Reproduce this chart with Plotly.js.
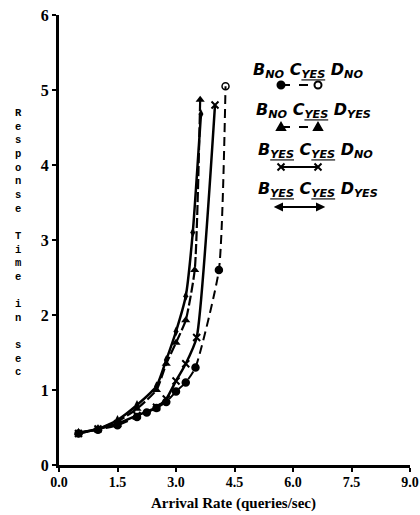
<!DOCTYPE html>
<html>
<head>
<meta charset="utf-8">
<script src="https://cdn.plot.ly/plotly-3.0.1.min.js"></script>
<style>html,body{margin:0;padding:0;background:#fff;}#chart{width:420px;height:515px;}</style>
</head>
<body>
<div id="chart"></div>
<script>
// ---- data ----
var seriesNames = [
  'B<sub>NO</sub> C<sub><u>YES</u></sub> D<sub>NO</sub>',
  'B<sub>NO</sub> C<sub><u>YES</u></sub> D<sub>YES</sub>',
  'B<sub><u>YES</u></sub> C<sub><u>YES</u></sub> D<sub>NO</sub>',
  'B<sub><u>YES</u></sub> C<sub><u>YES</u></sub> D<sub>YES</sub>'
];
var xNoYesNo  = [0.5, 1.0, 1.5, 2.0, 2.25, 2.5, 2.75, 3.0, 3.25, 3.5, 4.1, 4.27];
var yNoYesNo  = [0.42, 0.47, 0.53, 0.64, 0.70, 0.76, 0.84, 0.98, 1.10, 1.30, 2.60, 5.05];
var xNoYesYes = [0.5, 1.0, 1.5, 2.0, 2.5, 2.75, 3.0, 3.25, 3.48, 3.62];
var yNoYesYes = [0.43, 0.48, 0.58, 0.75, 1.00, 1.35, 1.63, 1.93, 2.60, 4.87];
var xYesYesNo = [0.5, 1.0, 1.5, 2.0, 2.5, 2.75, 3.0, 3.25, 3.53, 4.0];
var yYesYesNo = [0.42, 0.48, 0.55, 0.66, 0.77, 0.88, 1.12, 1.35, 1.70, 4.80];
var xYesYesYes = [0.5, 1.0, 1.5, 2.0, 2.5, 2.75, 3.0, 3.25, 3.43, 3.64];
var yYesYesYes = [0.43, 0.48, 0.60, 0.80, 1.05, 1.40, 1.78, 2.25, 3.10, 4.68];
var xTickVals = [0, 1.5, 3.0, 4.5, 6.0, 7.5, 9.0];
var xTickText = ['0.0', '1.5', '3.0', '4.5', '6.0', '7.5', '9.0'];
var yTickVals = [0, 1, 2, 3, 4, 5, 6];
var xTitle = 'Arrival Rate (queries/sec)';
var yTitle = 'Response Time in sec';

// ---- styling ----
var serif = 'Liberation Serif, Times New Roman, serif';
var legendFont = 'DejaVu Sans, sans-serif';
var circleSymbols = xNoYesNo.map(function(v, i){ return i === xNoYesNo.length - 1 ? 'circle-open' : 'circle'; });

var traces = [
  {x: xNoYesNo, y: yNoYesNo, mode: 'lines+markers', line: {color: '#000', width: 2, dash: '9px,5px', shape: 'spline', smoothing: 0.5},
   marker: {symbol: circleSymbols, size: 7, color: '#000', line: {color: '#000', width: 1.5}}, cliponaxis: false},
  {x: xNoYesYes, y: yNoYesYes, mode: 'lines+markers', line: {color: '#000', width: 2.2, dash: '10px,3px', shape: 'spline', smoothing: 0.5},
   marker: {symbol: 'triangle-up', size: 8, color: '#000'}, cliponaxis: false},
  {x: xYesYesNo, y: yYesYesNo, mode: 'lines+markers', line: {color: '#000', width: 2.5, shape: 'spline', smoothing: 0.5},
   marker: {symbol: 'x-thin-open', size: 7, color: '#000', line: {color: '#000', width: 2}}, cliponaxis: false},
  {x: xYesYesYes, y: yYesYesYes, mode: 'lines+markers', line: {color: '#000', width: 2.5, shape: 'spline', smoothing: 0.5},
   marker: {symbol: 'diamond-tall', size: 7, color: '#000'}, cliponaxis: false}
];

// ---- geometry of the plot area (px) ----
var L = 59, T = 15, W = 351, H = 450;
function pxX(x){ return (x - L) / W; }
function pxY(y){ return (T + H - y) / H; }
function dX(dx){ return dx / W; }
function dY(dy){ return dy / H; }

// ---- custom legend (label above a short sample line) ----
var legendRows = [
  {ty: 70, sy: 85, dash: 'dash', left: 'circle', right: 'circle-open'},
  {ty: 110, sy: 127, dash: 'dash', left: 'tri', right: 'tri'},
  {ty: 150, sy: 167, dash: 'solid', left: 'x', right: 'x'},
  {ty: 190, sy: 207, dash: 'solid', left: 'arrowL', right: 'arrowR'}
];
var sampleX0 = 281, sampleX1 = 318, labelCx = [308, 313, 315, 318];
function markerShape(kind, cx, cy){
  var r = 3.5;
  if (kind === 'circle' || kind === 'circle-open') {
    return {type: 'circle', xref: 'paper', yref: 'paper', x0: cx - dX(r), x1: cx + dX(r), y0: cy - dY(r), y1: cy + dY(r),
      line: {color: '#000', width: 2}, fillcolor: kind === 'circle' ? '#000' : '#fff'};
  }
  var p;
  function P(dx, dy){ return (cx + dX(dx)).toFixed(5) + ',' + (cy + dY(dy)).toFixed(5); }
  if (kind === 'tri') p = 'M' + P(-4, -3) + ' L' + P(4, -3) + ' L' + P(0, 4) + ' Z';
  if (kind === 'x') p = 'M' + P(-3.5, -3.5) + ' L' + P(3.5, 3.5) + ' M' + P(-3.5, 3.5) + ' L' + P(3.5, -3.5);
  if (kind === 'arrowL') p = 'M' + P(-5, 0) + ' L' + P(1, 3) + ' L' + P(1, -3) + ' Z';
  if (kind === 'arrowR') p = 'M' + P(5, 0) + ' L' + P(-1, 3) + ' L' + P(-1, -3) + ' Z';
  return {type: 'path', xref: 'paper', yref: 'paper', path: p, line: {color: '#000', width: 2}, fillcolor: '#000'};
}
var shapes = [], annotations = [];
legendRows.forEach(function(r, i){
  annotations.push({xref: 'paper', yref: 'paper', x: pxX(labelCx[i]), y: pxY(r.ty), text: '<b><i>' + seriesNames[i] + '</i></b>',
    showarrow: false, xanchor: 'center', yanchor: 'middle', font: {family: legendFont, size: 16, color: '#000'}});
  var sy = pxY(r.sy), x0 = pxX(sampleX0), x1 = pxX(sampleX1);
  shapes.push({type: 'line', xref: 'paper', yref: 'paper', x0: x0, x1: x1, y0: sy, y1: sy,
    line: {color: '#000', width: 2, dash: r.dash}});
  shapes.push(markerShape(r.left, x0, sy));
  shapes.push(markerShape(r.right, x1, sy));
});

// ---- stacked vertical y-axis title (one letter per line, a blank line per space) ----
annotations.push({xref: 'paper', yref: 'paper', x: pxX(18), y: pxY(243), xanchor: 'center', yanchor: 'middle',
  showarrow: false, align: 'center', text: '<b>' + yTitle.split('').join('<br>') + '</b>',
  font: {family: 'Liberation Mono, Courier New, monospace', size: 10.5, color: '#000'}});
// x-axis title
annotations.push({xref: 'paper', yref: 'paper', x: pxX(233), y: pxY(503), xanchor: 'center', yanchor: 'middle',
  showarrow: false, text: '<b>' + xTitle + '</b>', font: {family: serif, size: 15, color: '#000'}});

var layout = {
  width: 420, height: 515,
  margin: {l: L, r: 420 - L - W, t: T, b: 515 - T - H},
  paper_bgcolor: '#fff', plot_bgcolor: '#fff',
  showlegend: false,
  font: {family: serif, color: '#000'},
  xaxis: {range: [0, 9], tickvals: xTickVals, ticktext: xTickText.map(function(t){ return '<b>' + t + '</b>'; }), showgrid: false, zeroline: false,
    showline: true, linewidth: 3, linecolor: '#000', ticks: 'outside', ticklen: 4, tickwidth: 2, tickcolor: '#000',
    ticklabelstandoff: -2,
    tickfont: {family: serif, size: 14, color: '#000'}},
  yaxis: {range: [0, 6], tickvals: yTickVals, ticktext: yTickVals.map(function(t){ return '<b>' + t + '</b>'; }), showgrid: false, zeroline: false,
    showline: true, linewidth: 3, linecolor: '#000', ticks: 'outside', ticklen: 4, tickwidth: 2, tickcolor: '#000',
    tickfont: {family: serif, size: 16, color: '#000'}},
  shapes: shapes,
  annotations: annotations
};
Plotly.newPlot('chart', traces, layout, {displayModeBar: false, staticPlot: true});
</script>
</body>
</html>
